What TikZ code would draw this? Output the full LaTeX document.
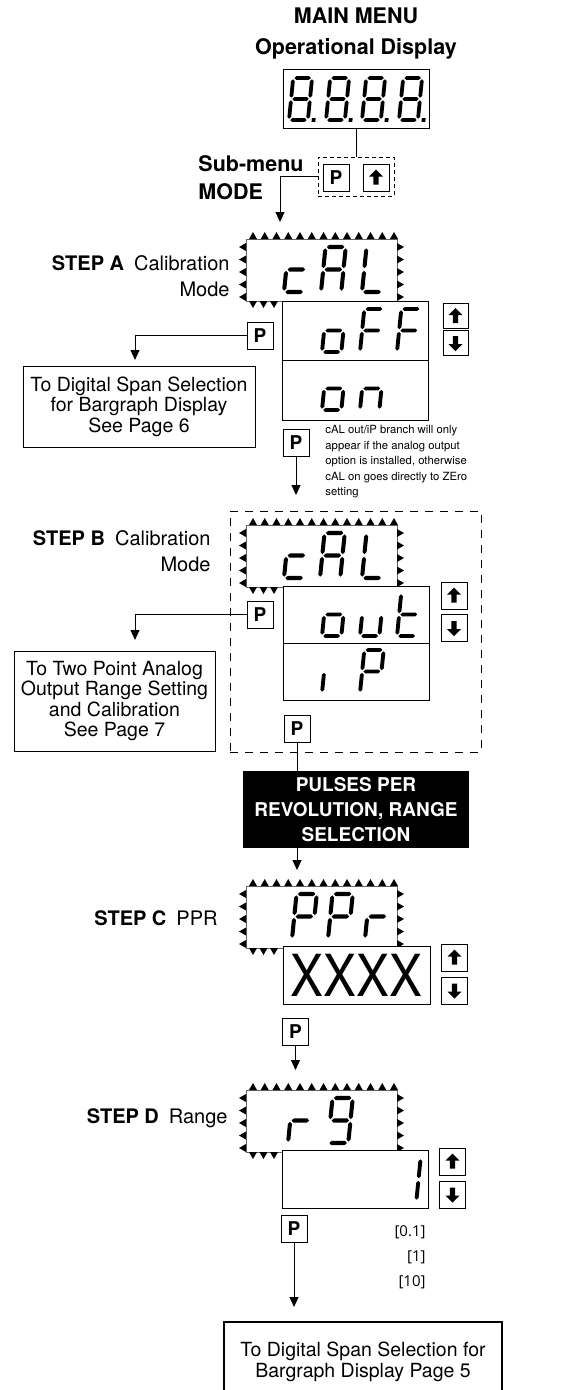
\documentclass[tikz,border=0pt]{standalone}
\usepackage{fontspec}
\setmainfont{TeX Gyre Heros}
\newfontfamily\rangefont{Open Sans}
\usepackage{graphicx}
\usetikzlibrary{positioning, arrows.meta, calc}

% seven segment pieces (unit = digit height)
\newcommand{\hseg}[3]{\fill (#1,#3) -- (#1+0.045,#3+0.045) -- (#2-0.045,#3+0.045) -- (#2,#3) -- (#2-0.045,#3-0.045) -- (#1+0.045,#3-0.045) -- cycle;}
\newcommand{\vseg}[3]{\fill (#1,#2) -- (#1+0.045,#2+0.045) -- (#1+0.045,#3-0.045) -- (#1,#3) -- (#1-0.045,#3-0.045) -- (#1-0.045,#2+0.045) -- cycle;}
\newcommand{\sga}{\hseg{0.03}{0.42}{1}}
\newcommand{\sgb}{\vseg{0.45}{0.53}{0.97}}
\newcommand{\sgc}{\vseg{0.45}{0.03}{0.47}}
\newcommand{\sgd}{\hseg{0.03}{0.42}{0}}
\newcommand{\sge}{\vseg{0}{0.03}{0.47}}
\newcommand{\sgf}{\vseg{0}{0.53}{0.97}}
\newcommand{\sgg}{\hseg{0.03}{0.42}{0.5}}
\newcommand{\sgp}{\fill (0.54,-0.045) rectangle ++(0.09,0.09);}

% one digit: x, y (bottom left), height, segments
\newcommand{\segdigit}[4]{%
    \begin{scope}[shift={(#1,#2)}, x=#3pt, y=#3pt, xslant=0.1]
        \foreach \s in {#4} {\csname sg\s\endcsname}
    \end{scope}}

% blinking frame round a display, #1 = top edge
\newcommand{\marquee}[1]{%
    \draw[marqline] (246,#1) rectangle (397,#1+62);
    \foreach \i in {0,...,12}
        \fill ({253+\i*11.75},#1) ++(-4,0) -- ++(8,0) -- ++(-4,-7) -- cycle;
    \foreach \j in {0,...,4} {
        \fill (246,{#1+8+\j*12.5}) ++(0,-4) -- ++(0,8) -- ++(-7,-4) -- cycle;
        \fill (397,{#1+8+\j*12.5}) ++(0,-4) -- ++(0,8) -- ++(7,-4) -- cycle;
    }
    \foreach \k in {0,1,2}
        \fill ({253+\k*10.5},#1+62) ++(-4,0) -- ++(8,0) -- ++(-4,7) -- cycle;
}

\tikzset{
    uparr/.pic={\fill (0,-8) -- (7,-1) -- (2.6,-1) -- (2.6,7) -- (-2.6,7) -- (-2.6,-1) -- (-7,-1) -- cycle;},
    dnarr/.pic={\fill (0,8) -- (7,1) -- (2.6,1) -- (2.6,-7) -- (-2.6,-7) -- (-2.6,1) -- (-7,1) -- cycle;},
}

\begin{document}
\begin{tikzpicture}[
        x=1pt, y=-1pt,
        >={Triangle[width=9pt,length=10pt]},
        line width=0.9pt,
        display/.style={draw, line width=1pt, inner sep=0pt, fill=white},
        pbtn/.style={draw, line width=1pt, minimum width=26pt, minimum height=27pt, inner sep=0pt, font=\bfseries\fontsize{19}{19}\selectfont},
        abtn/.style={draw, line width=1pt, minimum width=26pt, minimum height=27pt, inner sep=0pt},
        steplbl/.style={align=right, anchor=east, inner sep=0pt, font=\fontsize{20}{26}\selectfont},
        infobox/.style={draw, line width=1pt, align=center, inner sep=0pt, font=\fontsize{19.5}{20.5}\selectfont},
        marqline/.style={line width=0.4pt, black!60},
    ]
    \useasboundingbox (0,0) rectangle (561,1390);
    \clip (0,0) rectangle (561,1390);

        % Main menu and operational display
        \node[font=\bfseries\fontsize{21.5}{31}\selectfont, align=center] (title) at (356,34) {MAIN MENU\\Operational Display};
        \node[display, minimum width=146pt, minimum height=59pt] (main) at (356,98.5) {};
        \foreach \xx in {289,326,362,399}
            {\segdigit{\xx}{120}{42}{a,b,c,d,e,f,g,p}}

        % Sub-menu buttons
        \node[draw, dash pattern=on 4pt off 3pt, minimum width=76pt, minimum height=39pt] (sub) at (356,176.5) {};
        \node[pbtn] (pSub) at (336,177.5) {P};
        \node[abtn] (upSub) at (376,177.5) {};
        \pic at (upSub) {uparr};
        \node[anchor=west, align=left, inner sep=0pt, font=\bfseries\fontsize{21.5}{28}\selectfont] (mode) at (198,178) {Sub-menu\\MODE};
        \draw (main.south) -- (sub.north);
        \coordinate (inA) at (280,222);
        \draw[->] (sub.west) -| (inA);

        % Step A
        \marquee{239}
        \segdigit{284}{292}{45}{g,e,d}
        \segdigit{321}{292}{45}{a,b,c,e,f,g}
        \segdigit{362}{292}{45}{f,e,d}
        \node[steplbl] (lblA) at (230,276) {\textbf{STEP A}\enspace Calibration\\Mode};
        \node[display, minimum width=146pt, minimum height=119pt] (optA) at (355,360.5) {};
        \draw (optA.west) -- (optA.east);
        \segdigit{322}{352}{43}{g,c,d,e}
        \segdigit{360}{352}{43}{a,f,e,g}
        \segdigit{397}{352}{43}{a,f,e,g}
        \segdigit{322}{410}{43}{g,c,d,e}
        \segdigit{360}{410}{43}{g,e,c}
        \node[abtn, minimum width=25pt, minimum height=25pt] (upA) at (455.5,316) {};
        \node[abtn, minimum width=25pt, minimum height=25pt] (dnA) at (455.5,343) {};
        \pic at (upA) {uparr};
        \pic at (dnA) {dnarr};
        \node[pbtn] (pA) at (260,335.5) {P};
        \coordinate (toA) at (135,360);
        \draw[->] (pA.west) -| (toA);
        \node[infobox, minimum width=232pt, minimum height=81pt] (boxA) at (139,406.5) {To Digital Span Selection\\for Bargraph Display\\See Page 6};
        \node[pbtn] (pA2) at (296,443) {P};
        \node[anchor=north west, align=left, inner sep=0pt, font=\fontsize{11.3}{15.5}\selectfont] (note) at (325,425)
            {cAL out/iP branch will only\\appear if the analog output\\option is installed, otherwise\\cAL on goes directly to ZEro\\setting};
        \coordinate (inB) at (296,495);
        \draw[->] (pA2.south) -- (inB);

        % Step B
        \node[draw, dash pattern=on 8pt off 7pt, minimum width=251pt, minimum height=241pt] (grpB) at (355.5,631.5) {};
        \marquee{525}
        \segdigit{284}{578}{45}{g,e,d}
        \segdigit{320}{578}{45}{a,b,c,e,f,g}
        \segdigit{362}{578}{45}{f,e,d}
        \node[steplbl] (lblB) at (211,551) {\textbf{STEP B}\enspace Calibration\\Mode};
        \node[display, minimum width=146pt, minimum height=114pt] (optB) at (356,643) {};
        \draw (optB.west) -- (optB.east);
        \segdigit{322}{636}{43}{g,c,d,e}
        \segdigit{360}{636}{43}{e,d,c}
        \segdigit{397}{636}{43}{f,e,d,g}
        \segdigit{322}{693}{43}{e}
        \segdigit{360}{693}{43}{a,b,f,g,e}
        \node[abtn] (upB) at (454,595.5) {};
        \node[abtn] (dnB) at (454,628) {};
        \pic at (upB) {uparr};
        \pic at (dnB) {dnarr};
        \node[pbtn] (pB) at (260,614.5) {P};
        \coordinate (toB) at (135,640);
        \draw[->] (pB.west) -| (toB);
        \node[infobox, minimum width=201pt, minimum height=100pt] (boxB) at (114.5,701) {To Two Point Analog\\Output Range Setting\\and Calibration\\See Page 7};
        \node[pbtn] (pB2) at (297,728.5) {P};

        % PPR and range selection
        \node[fill=black, text=white, align=center, inner sep=0pt, minimum width=226pt, minimum height=77pt, font=\bfseries\fontsize{19}{25}\selectfont] (sel) at (356,809.5) {PULSES PER\\REVOLUTION, RANGE\\SELECTION};
        \draw (pB2.south) -- (pB2.south |- sel.north);
        \coordinate (inC) at (297,870);
        \draw[->] (pB2.south |- sel.south) -- (inC);

        % Step C
        \marquee{886}
        \segdigit{292}{939}{45}{a,b,f,g,e}
        \segdigit{328}{939}{45}{a,b,f,g,e}
        \segdigit{365}{939}{45}{g,e}
        \node[steplbl] (lblC) at (218,918) {\textbf{STEP C}\enspace PPR};
        \node[display, minimum width=147pt, minimum height=58pt, font=\fontsize{58}{58}\selectfont] (ppr) at (356.5,975) {\scalebox{0.85}[1]{XXXX}};
        \node[abtn] (upC) at (454.5,957.5) {};
        \node[abtn] (dnC) at (454.5,990.5) {};
        \pic at (upC) {uparr};
        \pic at (dnC) {dnarr};
        \node[pbtn] (pC) at (295.5,1031.5) {P};
        \coordinate (inD) at (295.5,1070);
        \draw[->] (pC.south) -- (inD);

        % Step D
        \marquee{1090}
        \segdigit{288}{1143}{45}{g,e}
        \segdigit{328}{1143}{45}{a,b,c,d,f,g}
        \node[steplbl] (lblD) at (228,1118) {\textbf{STEP D}\enspace Range};
        \node[display, minimum width=146pt, minimum height=58pt] (rng) at (355,1179) {};
        \segdigit{397}{1201}{43}{b,c}
        \node[abtn] (upD) at (452.5,1161.5) {};
        \node[abtn] (dnD) at (452.5,1194.5) {};
        \pic at (upD) {uparr};
        \pic at (dnD) {dnarr};
        \node[pbtn] (pD) at (294,1228.5) {P};
        \node[anchor=east, align=right, inner sep=0pt, font=\rangefont\fontsize{15}{25}\selectfont] (vals) at (426,1257) {{[0.1]}\\{[1]}\\{[10]}};
        \coordinate (toEnd) at (294,1307);
        \draw[->] (pD.south) -- (toEnd);
        \node[infobox, line width=2pt, minimum width=278pt, minimum height=80pt] (boxEnd) at (363,1362) {To Digital Span Selection for\\Bargraph Display Page 5};
    \end{tikzpicture}
\end{document}
